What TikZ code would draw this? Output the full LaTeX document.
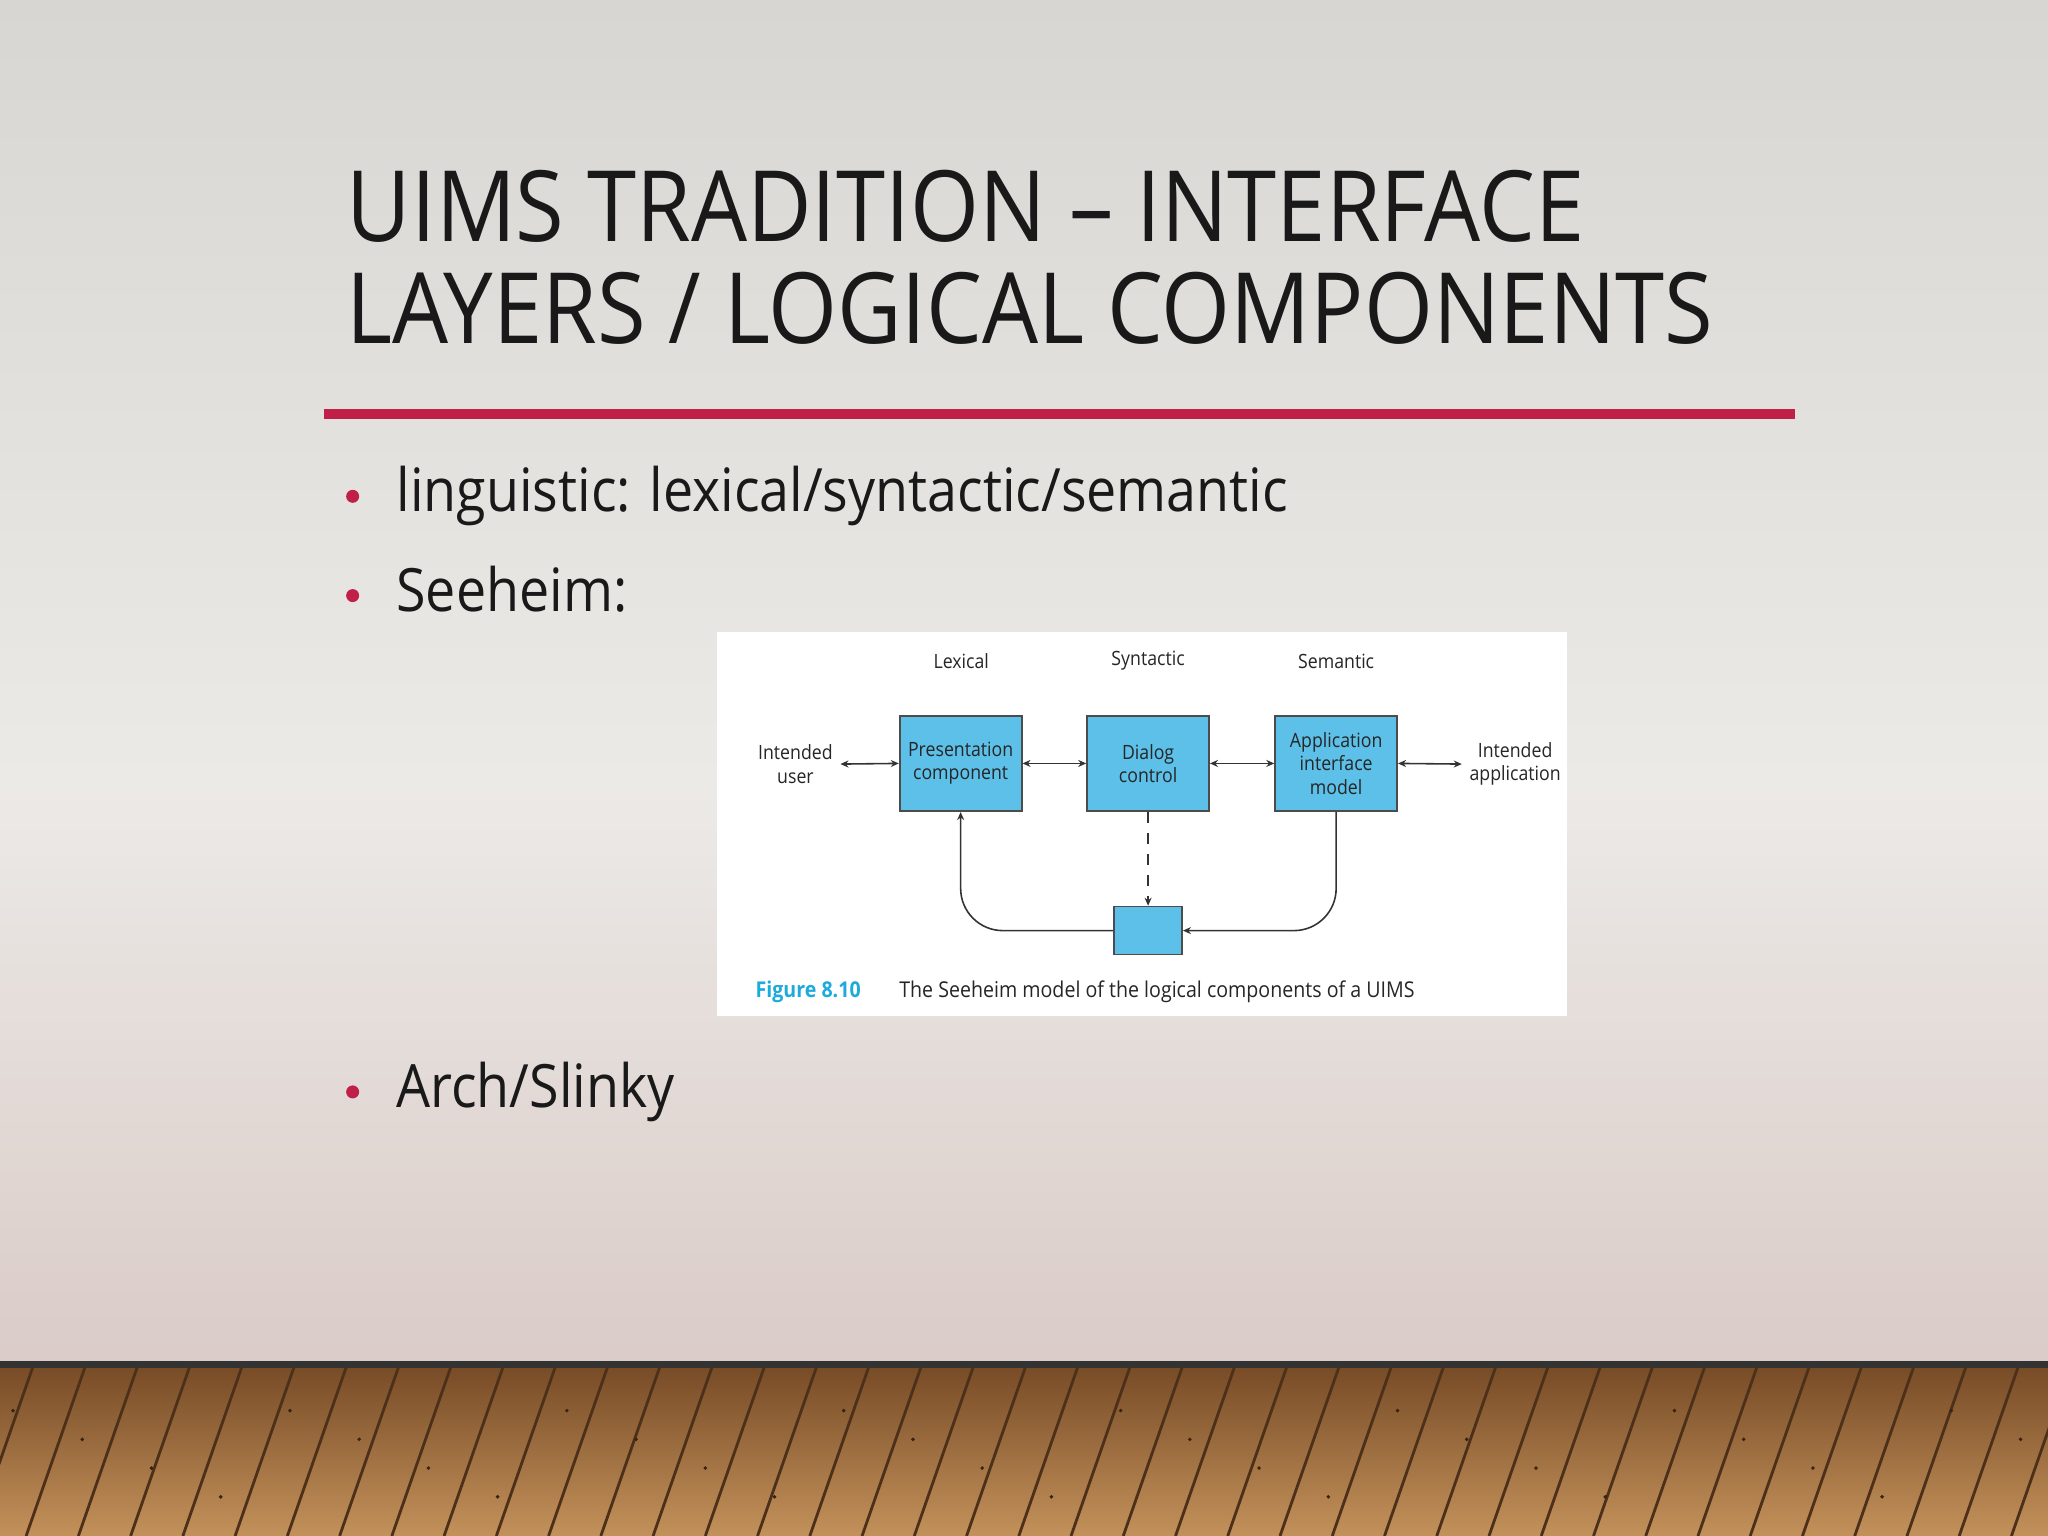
\documentclass[tikz,border=0pt]{standalone}
\usepackage{fontspec}
\setmainfont{Open Sans}[FakeStretch=0.9]
\usetikzlibrary{arrows.meta}
\definecolor{bgA}{RGB}{216,214,210}
\definecolor{bgB}{RGB}{236,234,231}
\definecolor{redline}{RGB}{192,32,72}
\definecolor{boxcyan}{RGB}{92,192,232}
\definecolor{figcyan}{RGB}{30,170,220}
\definecolor{woodA}{RGB}{140,88,45}
\definecolor{woodB}{RGB}{195,145,90}
\tikzset{
  ttl/.style={anchor=base west,inner sep=0,font=\fontsize{28}{30}\selectfont,text=black!90},
  bul/.style={anchor=base west,inner sep=0,font=\fontsize{17}{20}\selectfont,text=black!90},
  dot/.style={circle,fill=redline,inner sep=0,minimum size=0.13cm},
  lbl/.style={inner sep=0,font=\fontsize{5.6}{6.6}\selectfont,text=black!85,align=center},
  cbox/.style={draw=black!70,line width=0.5pt,fill=boxcyan,inner sep=0,font=\fontsize{5.6}{6.6}\selectfont,align=center,text=black!85},
  arr/.style={line width=0.45pt,draw=black!80,-{Stealth[length=0.8mm,width=0.7mm]}},
  darr/.style={arr,{Stealth[length=0.8mm,width=0.7mm]}-{Stealth[length=0.8mm,width=0.7mm]}}
}
\begin{document}
\begin{tikzpicture}[x=0.013061cm,y=-0.013061cm]
\useasboundingbox (0,0) rectangle (1568,1176);
\shade[top color=bgA,bottom color=bgB] (0,0) rectangle (1568,600);
\shade[top color=bgB,bottom color=bgA!95!red] (0,600) rectangle (1568,1045);
% floor
\shade[top color=woodA!85!black,bottom color=woodB] (0,1045) rectangle (1568,1176);
\draw[black!80,line width=2pt] (0,1045) -- (1568,1045);
\foreach \i in {0,...,40}{
  \draw[woodA!55!black,line width=0.8pt] ({\i*40-20},1176) -- ({\i*40+25},1047);
}
\foreach \i in {0,...,30}{
  \fill[woodA!40!black] ({\i*53+10},{1080+mod(\i,4)*22}) circle (1.5);
}
% title
\node[ttl] (t1) at (265,185) {UIMS TRADITION – INTERFACE};
\node[ttl] (t2) at (265,263) {LAYERS / LOGICAL COMPONENTS};
\coordinate (la) at (248,317); \coordinate (lb) at (1374,317);
\draw[redline,line width=3pt] (la) -- (lb);
% bullets
\node[dot] (d1) at (270,380) {}; \node[bul] (b1) at (303,392) {linguistic: lexical/syntactic/semantic};
\node[dot] (d2) at (270,456) {}; \node[bul] (b2) at (303,468) {Seeheim:};
\node[dot] (d3) at (270,836) {}; \node[bul] (b3) at (303,848) {Arch/Slinky};
% figure
\fill[white] (549,484) rectangle (1200,778);
\node[lbl] (lx) at (736,506) {Lexical};
\node[lbl] (sy) at (879,506) {Syntactic};
\node[lbl] (se) at (1023,506) {Semantic};
\node[cbox,minimum width=1.22cm,minimum height=0.955cm] (pc) at (735.5,584.5) {Presentation\\component};
\node[cbox,minimum width=1.22cm,minimum height=0.955cm] (dc) at (879,584.5) {Dialog\\control};
\node[cbox,minimum width=1.22cm,minimum height=0.955cm] (am) at (1023,584.5) {Application\\interface\\model};
\node[cbox,minimum width=0.68cm,minimum height=0.48cm] (sb) at (879,712.5) {};
\node[lbl] (iu) at (609,585) {Intended\\user};
\node[lbl] (ia) at (1160,585) {Intended\\application};
\draw[darr] ([xshift=2pt]iu.east) -- (pc.west);
\draw[darr] (pc) -- (dc);
\draw[darr] (dc) -- (am);
\draw[darr] (am.east) -- ([xshift=-2pt]ia.west);
\draw[arr,dashed] (dc.south) -- (sb.north);
\draw[arr,rounded corners=12] (am.south) |- (sb.east);
\draw[arr,rounded corners=12] (sb.west) -| (pc.south);
\node[anchor=base west,inner sep=0,font=\bfseries\fontsize{6.2}{7}\selectfont,text=figcyan] (fg) at (578,764) {Figure 8.10};
\node[anchor=base west,inner sep=0,font=\fontsize{6.2}{7}\selectfont,text=black!85] (cap) at (688,764) {The Seeheim model of the logical components of a UIMS};
\end{tikzpicture}
\end{document}
